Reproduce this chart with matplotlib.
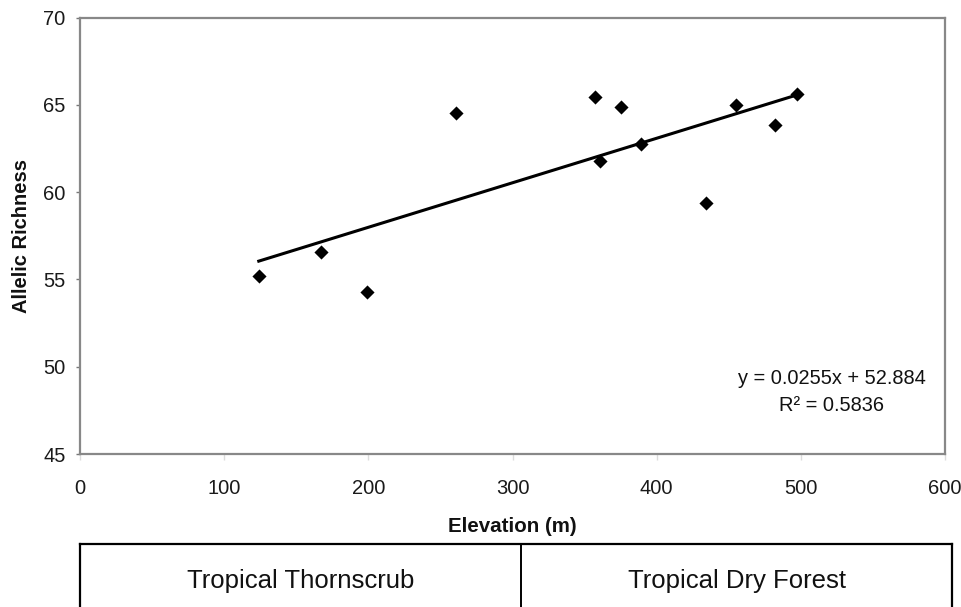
import numpy as np
import matplotlib
matplotlib.use("Agg")
import matplotlib.pyplot as plt

plt.rcParams['font.family'] = ['Liberation Sans', 'DejaVu Sans']

# ---- data ----
elevation = [124, 167, 199, 261, 357, 361, 375, 389, 434, 455, 482, 497]
richness = [55.2, 56.55, 54.25, 64.55, 65.43, 61.8, 64.9, 62.75, 59.38, 65.0, 63.83, 65.62]
slope = 0.0255
intercept = 52.884
r_squared = 0.5836
x_ticks = [0, 100, 200, 300, 400, 500, 600]
y_ticks = [45, 50, 55, 60, 65, 70]
zones = ["Tropical Thornscrub", "Tropical Dry Forest"]
zone_edges = [0, 306, 605]

W, H = 962, 607
fig = plt.figure(figsize=(W / 100, H / 100), dpi=100)

# main axes
l, r, t, b = 80, 945, 17.5, 454
ax = fig.add_axes([l / W, 1 - b / H, (r - l) / W, (b - t) / H])
ax.scatter(elevation, richness, marker='D', s=7.2 ** 2, color='black', zorder=3, linewidths=0)
xf = np.array([min(elevation), max(elevation)])
ax.plot(xf, slope * xf + intercept, color='black', lw=2.2, zorder=2)

ax.set_xlim(x_ticks[0], x_ticks[-1])
ax.set_ylim(y_ticks[0], y_ticks[-1])
ax.set_xticks(x_ticks)
ax.set_yticks(y_ticks)
ax.tick_params(axis='y', direction='out', length=3, width=1, color='#777777',
               pad=7.5, labelsize=14.5, labelcolor='#1a1a1a')
ax.tick_params(axis='x', direction='out', length=4, width=1, color='#dddddd',
               pad=14, labelsize=14.5, labelcolor='#1a1a1a')
for s in ax.spines.values():
    s.set_color('#888888')
    s.set_linewidth(1.6)

ax.set_xlabel('Elevation (m)', fontsize=14.8, fontweight='bold', labelpad=14, color='#111111')
ax.set_ylabel('Allelic Richness', fontsize=14.5, fontweight='bold', labelpad=9, color='#111111')

ax.text(0.869, 0.174, f'y = {slope}x + {intercept}', transform=ax.transAxes,
        ha='center', va='center', fontsize=14.4, color='#111111')
ax.text(0.869, 0.112, f'R² = {r_squared}', transform=ax.transAxes,
        ha='center', va='center', fontsize=14.4, color='#111111')

# zone box
bl, br, bt = 80, 952, 544
ax2 = fig.add_axes([bl / W, 0, (br - bl) / W, (H - bt) / H])
ax2.set_xlim(zone_edges[0], zone_edges[-1])
ax2.set_ylim(0, 1)
ax2.set_xticks([])
ax2.set_yticks([])
ax2.spines['bottom'].set_visible(False)
for k in ['top', 'left', 'right']:
    ax2.spines[k].set_color('black')
    ax2.spines[k].set_linewidth(1.6)
for e in zone_edges[1:-1]:
    ax2.axvline(e, color='black', lw=1.4)
for name, a, c in zip(zones, zone_edges[:-1], zone_edges[1:]):
    ax2.text((a + c) / 2, 0.41, name, ha='center', va='center', fontsize=18.5, color='#111111')

fig.savefig('out.png', dpi=100)
